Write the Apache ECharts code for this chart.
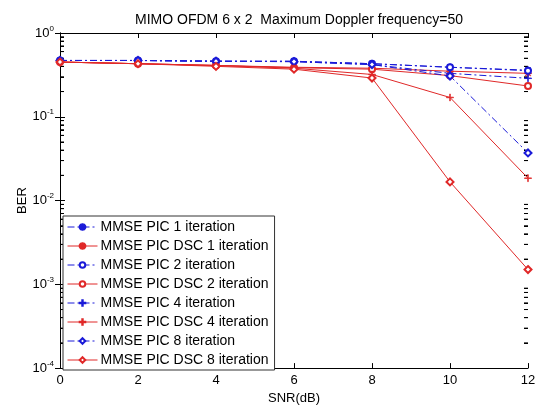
<!DOCTYPE html>
<html>
<head>
<meta charset="utf-8">
<style>
	html, body { margin: 0; padding: 0; background: #fff; }
	#chart { width: 541px; height: 410px; }
</style>
</head>
<body>
<div id="chart"></div>
<script src="https://cdn.jsdelivr.net/npm/echarts@6/dist/echarts.min.js"></script>
<script>
var snr = [0, 2, 4, 6, 8, 10, 12];
var pic1 = [0.47, 0.47, 0.46, 0.46, 0.43, 0.39, 0.36];
var dsc1 = [0.45, 0.43, 0.41, 0.39, 0.38, 0.35, 0.33];
var pic2 = [0.47, 0.47, 0.46, 0.46, 0.43, 0.39, 0.355];
var dsc2 = [0.45, 0.43, 0.41, 0.385, 0.37, 0.31, 0.233];
var pic4 = [0.47, 0.47, 0.46, 0.455, 0.42, 0.33, 0.288];
var dsc4 = [0.45, 0.43, 0.41, 0.38, 0.32, 0.17, 0.0185];
var pic8 = [0.47, 0.47, 0.46, 0.455, 0.42, 0.307, 0.037];
var dsc8 = [0.45, 0.43, 0.40, 0.37, 0.29, 0.0167, 0.0015];
var names = [
	'MMSE PIC 1 iteration', 'MMSE PIC DSC 1 iteration',
	'MMSE PIC 2 iteration', 'MMSE PIC DSC 2 iteration',
	'MMSE PIC 4 iteration', 'MMSE PIC DSC 4 iteration',
	'MMSE PIC 8 iteration', 'MMSE PIC DSC 8 iteration'
];
var values = [pic1, dsc1, pic2, dsc2, pic4, dsc4, pic8, dsc8];

// log minor ticks 2..9 in each decade
var decades = [1e-4, 1e-3, 1e-2, 1e-1];
var minorVals = [];
decades.forEach(function (d) {
	for (var k = 2; k <= 9; k++) minorVals.push(k * d);
});
var minorTicks = [];
minorVals.forEach(function (v) {
	minorTicks.push([0, v, 1]);
	minorTicks.push([12, v, -1]);
});

// marker shapes (matlab style: *, o, +, diamond)
var star = 'path://M4.6,0H5.4V3.8L8.5,1.3L9,1.9L5.9,4.6H10V5.4H5.9L9,8.1L8.5,8.7L5.4,6.2V10H4.6V6.2L1.5,8.7L1,8.1L4.1,5.4H0V4.6H4.1L1,1.9L1.5,1.3L4.6,3.8Z';
var plus = 'path://M4.6,0H5.4V4.6H10V5.4H5.4V10H4.6V5.4H0V4.6H4.6Z';
var shapes = [star, star, 'emptyCircle', 'emptyCircle', plus, plus, 'emptyDiamond', 'emptyDiamond'];
var sizes = [7, 7, 6, 6, 7, 7, 7, 7];

function pairs(arr) {
	return arr.map(function (v, i) { return [snr[i], v]; });
}

var series = names.map(function (n, i) {
	var isPic = i % 2 === 0;
	var col = isPic ? '#1a1ad8' : '#e02828';
	return {
		name: n,
		type: 'line',
		data: pairs(values[i]),
		symbol: shapes[i],
		symbolSize: sizes[i],
		showAllSymbol: true,
		lineStyle: { color: col, width: 1, type: isPic ? [7, 3, 2, 3] : 'solid' },
		itemStyle: { color: col, borderColor: col, borderWidth: 0.8 },
		emphasis: { disabled: true },
		animation: false
	};
});

series.push({
	type: 'custom',
	silent: true,
	animation: false,
	clip: false,
	z: 1,
	encode: { x: 0, y: 1 },
	data: minorTicks,
	renderItem: function (params, api) {
		var p = api.coord([api.value(0), api.value(1)]);
		var dir = api.value(2);
		return {
			type: 'line',
			shape: { x1: p[0], y1: p[1], x2: p[0] + 4 * dir, y2: p[1] },
			style: { stroke: '#000', lineWidth: 1 }
		};
	}
});

function minorAxis(pos) {
	return {
		type: 'log', min: 1e-4, max: 1, logBase: 10, position: pos, offset: 0,
		axisLine: { show: false },
		axisTick: { show: true, inside: true, length: 4, customValues: minorVals, lineStyle: { color: '#000' } },
		axisLabel: { show: false },
		splitLine: { show: false }
	};
}

var chart = echarts.init(document.getElementById('chart'));
chart.setOption({
	backgroundColor: '#fff',
	textStyle: { fontFamily: 'Liberation Sans, Arial, sans-serif' },
	title: {
		text: 'MIMO OFDM 6 x 2  Maximum Doppler frequency=50',
		left: 294, top: 8, textAlign: 'center',
		textStyle: { fontSize: 14, fontWeight: 'normal', color: '#000' }
	},
	grid: { left: 60, right: 13, top: 33, bottom: 40 },
	legend: {
		orient: 'vertical', left: 63, top: 216,
		padding: [4, 6, 3, 4],
		itemWidth: 30, itemHeight: 7, itemGap: 5,
		backgroundColor: '#fff', borderColor: '#333', borderWidth: 1, borderRadius: 0,
		lineStyle: { width: 1 },
		textStyle: { fontSize: 14, lineHeight: 14, color: '#000', padding: [0, 0, 0, -2] },
		data: names
	},
	xAxis: [{
		type: 'value', min: 0, max: 12, interval: 2,
		name: 'SNR(dB)', nameLocation: 'middle', nameGap: 22,
		nameTextStyle: { fontSize: 13, color: '#000' },
		axisLine: { lineStyle: { color: '#000' } },
		axisTick: { inside: true, length: 5, lineStyle: { color: '#000' } },
		axisLabel: { fontSize: 13, color: '#000', margin: 6 },
		splitLine: { show: false }
	}, {
		type: 'value', min: 0, max: 12, interval: 2, position: 'top',
		axisLine: { show: true, lineStyle: { color: '#000' } },
		axisTick: { inside: true, length: 5, lineStyle: { color: '#000' } },
		axisLabel: { show: false },
		splitLine: { show: false }
	}],
	yAxis: [{
		type: 'log', min: 1e-4, max: 1, logBase: 10,
		name: 'BER', nameLocation: 'middle', nameGap: 31, nameRotate: 90,
		nameMoveOverlap: false,
		nameTextStyle: { fontSize: 13, color: '#000' },
		axisLine: { show: true, lineStyle: { color: '#000' } },
		axisTick: { inside: true, length: 5, lineStyle: { color: '#000' } },
		axisLabel: {
			color: '#000', margin: 6,
			formatter: function (v) {
				return '{b|10}{s|' + Math.round(Math.log10(v)) + '}';
			},
			rich: {
				b: { fontSize: 13, color: '#000' },
				s: { fontSize: 8, color: '#000', padding: [0, 0, 9, 0] }
			}
		},
		splitLine: { show: false }
	}, {
		type: 'log', min: 1e-4, max: 1, logBase: 10, position: 'right',
		axisLine: { show: true, lineStyle: { color: '#000' } },
		axisTick: { inside: true, length: 5, lineStyle: { color: '#000' } },
		axisLabel: { show: false },
		splitLine: { show: false }
	}, minorAxis('left'), minorAxis('right')],
	series: series
});
</script>
</body>
</html>
